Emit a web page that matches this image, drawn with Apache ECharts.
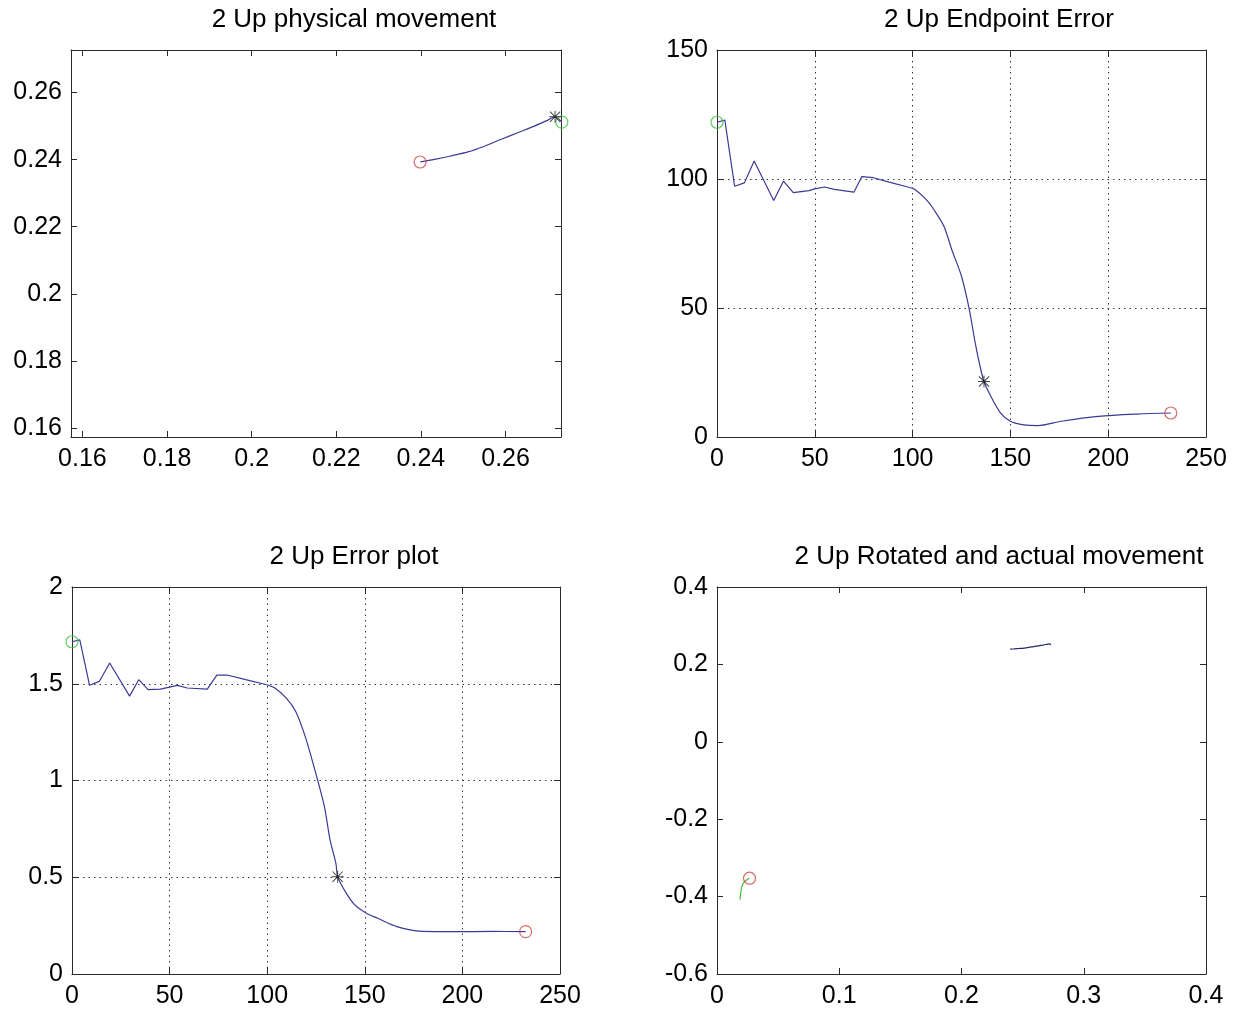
<!DOCTYPE html>
<html>
<head>
<meta charset="utf-8">
<script src="https://cdn.jsdelivr.net/npm/echarts@6/dist/echarts.min.js"></script>
<style>
html,body{margin:0;padding:0;background:#fff;}
#c{width:1239px;height:1012px;}
</style>
</head>
<body>
<div id="c"></div>
<script>
// ---------- data ----------
// Plot 1: physical movement (x, y)
const physX = [0.2733, 0.2717, 0.2700, 0.2668, 0.2630, 0.2590, 0.2550, 0.2511, 0.2470, 0.2432, 0.2398];
const physY = [0.2512, 0.2528, 0.2518, 0.2500, 0.2481, 0.2461, 0.2440, 0.2423, 0.2411, 0.2401, 0.2393];
const physStart = [0.2733, 0.2512];
const physStar = [0.2717, 0.2528];
const physEnd = [0.2398, 0.2393];

// Plot 2: endpoint error
const errIdx = [0, 4, 9, 14, 19, 29, 34, 39, 47, 50, 55, 60, 70, 74, 80, 89, 98, 101, 107, 111, 116, 120, 125, 129, 132, 134.5, 136.5, 140, 145, 150, 156, 164, 176, 195, 215, 232];
const errVal = [122, 122.8, 97.2, 98.5, 107, 91.7, 99.2, 94.7, 95.5, 96.2, 96.9, 96, 94.9, 100.9, 100.5, 98.6, 96.8, 96, 92, 88, 81.7, 72.7, 62.3, 49.4, 36.5, 27.4, 21.5, 15.8, 9.3, 6.1, 4.8, 4.4, 6.1, 8, 8.9, 9.3];
const errStart = [0, 122];
const errStar = [136.5, 21.5];
const errEnd = [232, 9.3];

// Plot 3: error plot
const epIdx = [0, 4, 9, 14, 19.3, 29.5, 34.2, 39, 45.3, 54, 59, 69.3, 74.2, 79.4, 89, 99.8, 103.9, 109.8, 114.6, 119.5, 124.4, 129.3, 132.2, 135.2, 136.1, 140, 144.9, 150.8, 156.6, 166.4, 178, 197.6, 215, 232.4];
const epVal = [1.717, 1.727, 1.492, 1.512, 1.607, 1.436, 1.521, 1.470, 1.472, 1.492, 1.478, 1.472, 1.545, 1.545, 1.521, 1.495, 1.478, 1.426, 1.357, 1.227, 1.055, 0.865, 0.693, 0.572, 0.503, 0.426, 0.357, 0.314, 0.288, 0.245, 0.222, 0.219, 0.220, 0.219];
const epStart = [0, 1.717];
const epStar = [136.1, 0.503];
const epEnd = [232.4, 0.219];

// Plot 4: rotated and actual movement
const rotX = [0.0188, 0.0208, 0.0249, 0.0266];
const rotY = [-0.408, -0.369, -0.355, -0.3525];
const rotEnd = [0.0266, -0.3525];

// tick labels
const physTicks = [0.16, 0.18, 0.2, 0.22, 0.24, 0.26];
const titles = ['2 Up physical movement', '2 Up Endpoint Error', '2 Up Error plot', '2 Up Rotated and actual movement'];

// ---------- helpers ----------
const FONT = 'Liberation Sans, Arial, Helvetica, sans-serif';
const FS = 25;
const TFS = 26;
const AXC = '#2a2a2a';
const LINEC = '#3a3a96';
const pairs = (xs, ys) => xs.map((x, i) => [x, ys[i]]);

const grids = [
  {left: 71, top: 50, width: 490, height: 387},
  {left: 717, top: 50, width: 489, height: 387},
  {left: 72, top: 587, width: 488, height: 387},
  {left: 717, top: 587, width: 489, height: 387}
];

const xAxes = [], yAxes = [];
function addAxes(gi, xs, ys) {
  ['bottom', 'top'].forEach((pos, k) => {
    const a = {
      type: 'value', gridIndex: gi, position: pos, min: xs.min, max: xs.max,
      axisLine: {show: true, onZero: false, lineStyle: {color: AXC, width: 1}},
      axisTick: {show: true, inside: true, length: 6, lineStyle: {color: AXC}},
      axisLabel: {show: k === 0, color: '#000', fontSize: FS, fontFamily: FONT, margin: 10},
      splitLine: {show: !!xs.grid && k === 0, lineStyle: {color: '#333', type: [1.5, 4], width: 1}}
    };
    if (xs.custom) { a.axisLabel.customValues = xs.custom; a.axisTick.customValues = xs.custom; }
    else a.interval = xs.interval;
    xAxes.push(a);
  });
  ['left', 'right'].forEach((pos, k) => {
    const a = {
      type: 'value', gridIndex: gi, position: pos, min: ys.min, max: ys.max,
      axisLine: {show: true, onZero: false, lineStyle: {color: AXC, width: 1}},
      axisTick: {show: true, inside: true, length: 6, lineStyle: {color: AXC}},
      axisLabel: {show: k === 0, color: '#000', fontSize: FS, fontFamily: FONT, margin: 9},
      splitLine: {show: !!ys.grid && k === 0, lineStyle: {color: '#333', type: [1.5, 4], width: 1}}
    };
    if (ys.custom) { a.axisLabel.customValues = ys.custom; a.axisTick.customValues = ys.custom; }
    else a.interval = ys.interval;
    yAxes.push(a);
  });
}

addAxes(0, {min: 0.1573, max: 0.2731, custom: physTicks}, {min: 0.1573, max: 0.2727, custom: physTicks});
addAxes(1, {min: 0, max: 250, interval: 50, grid: true}, {min: 0, max: 150, interval: 50, grid: true});
addAxes(2, {min: 0, max: 250, interval: 50, grid: true}, {min: 0, max: 2, interval: 0.5, grid: true});
addAxes(3, {min: 0, max: 0.4, interval: 0.1}, {min: -0.6, max: 0.4, interval: 0.2});

const STAR = 'path://M9.2 0H10.8V20H9.2Z M0 9.2H20V10.8H0Z M2 0.9L19.1 18L18 19.1L0.9 2Z M18 0.9L19.1 2L2 19.1L0.9 18Z';

function line(gi, data, color, smooth) {
  return {type: 'line', xAxisIndex: gi * 2, yAxisIndex: gi * 2, data: data, showSymbol: false,
    symbol: 'none', smooth: smooth || false, lineStyle: {color: color, width: 1.2},
    animation: false, silent: true, z: 3};
}
function circle(gi, pt, color) {
  return {type: 'scatter', xAxisIndex: gi * 2, yAxisIndex: gi * 2, data: [pt], symbol: 'circle',
    symbolSize: 12, clip: false, itemStyle: {color: 'rgba(0,0,0,0)', borderColor: color, borderWidth: 1.2},
    animation: false, silent: true, z: 4};
}
function star(gi, pt) {
  return {type: 'scatter', xAxisIndex: gi * 2, yAxisIndex: gi * 2, data: [pt], symbol: STAR,
    symbolSize: 12, clip: false, itemStyle: {color: '#111'}, animation: false, silent: true, z: 5};
}

// jagged early part drawn straight, smooth descent drawn with light smoothing
const errPts = pairs(errIdx, errVal);
const epPts = pairs(epIdx, epVal);
const errSplit = errIdx.indexOf(98);
const epSplit = epIdx.indexOf(99.8);

const RED = '#d04848', GREEN = '#3cc03c';
const series = [
  line(0, pairs(physX, physY), LINEC, 0.3), circle(0, physStart, GREEN), circle(0, physEnd, RED), star(0, physStar),
  line(1, errPts.slice(0, errSplit + 1), LINEC), line(1, errPts.slice(errSplit), LINEC, 0.3),
  circle(1, errStart, GREEN), circle(1, errEnd, RED), star(1, errStar),
  line(2, epPts.slice(0, epSplit + 1), LINEC), line(2, epPts.slice(epSplit), LINEC, 0.3),
  circle(2, epStart, GREEN), circle(2, epEnd, RED), star(2, epStar),
  line(3, pairs(physX, physY), '#262670', 0.3), line(3, pairs(rotX, rotY), GREEN, 0.3), circle(3, rotEnd, RED)
];

const titlePos = [[354, 20], [999, 20], [354, 557], [999, 557]];
const graphic = titles.map((t, i) => ({
  type: 'text', x: titlePos[i][0], y: titlePos[i][1],
  style: {text: t, fill: '#000', font: TFS + 'px ' + FONT, textAlign: 'center', textVerticalAlign: 'middle'}
}));

const chart = echarts.init(document.getElementById('c'), null, {renderer: 'canvas'});
chart.setOption({
  backgroundColor: '#fff',
  animation: false,
  grid: grids,
  xAxis: xAxes,
  yAxis: yAxes,
  series: series,
  graphic: graphic
});
</script>
</body>
</html>
